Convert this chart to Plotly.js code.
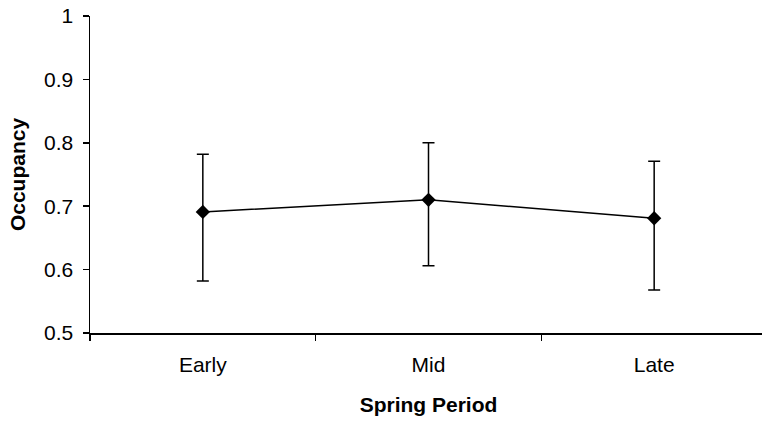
<!DOCTYPE html>
<html>
<head>
<meta charset="utf-8">
<script src="https://cdn.plot.ly/plotly-3.0.1.min.js"></script>
<style>
html,body{margin:0;padding:0;overflow:hidden;background:#fff;}
#chart{width:767px;height:423px;}
</style>
</head>
<body>
<div id="chart"></div>
<script>
var periods = ["Early", "Mid", "Late"];
var occupancy = [0.691, 0.710, 0.681];
var upperBound = [0.782, 0.800, 0.771];
var lowerBound = [0.582, 0.606, 0.568];

var errPlus = occupancy.map(function(v, i){ return upperBound[i] - v; });
var errMinus = occupancy.map(function(v, i){ return v - lowerBound[i]; });

var trace = {
  x: periods,
  y: occupancy,
  type: "scatter",
  mode: "lines+markers",
  line: {color: "#000", width: 1.5},
  marker: {symbol: "diamond", size: 11, color: "#000"},
  error_y: {
    type: "data",
    symmetric: false,
    array: errPlus,
    arrayminus: errMinus,
    color: "#000",
    thickness: 1.5,
    width: 6
  },
  showlegend: false,
  cliponaxis: false
};

var fontFamily = "Liberation Sans, Arial, sans-serif";

var layout = {
  width: 767,
  height: 423,
  margin: {l: 90, r: 0, t: 16, b: 90},
  paper_bgcolor: "#fff",
  plot_bgcolor: "#fff",
  font: {family: fontFamily, color: "#000", size: 21},
  xaxis: {
    type: "category",
    range: [-0.5, 2.5],
    showline: true,
    linecolor: "#000",
    linewidth: 1.5,
    ticks: "outside",
    tickson: "boundaries",
    ticklen: 6,
    tickwidth: 1.5,
    tickcolor: "#000",
    showgrid: false,
    zeroline: false,
    ticklabelstandoff: 12,
    tickfont: {family: fontFamily, size: 21, color: "#000"},
    title: {text: "<b>Spring Period</b>", font: {family: fontFamily, size: 21, color: "#000"}, standoff: 22},
    automargin: false,
    fixedrange: true
  },
  yaxis: {
    range: [0.5, 1],
    tickvals: [0.5, 0.6, 0.7, 0.8, 0.9, 1],
    ticktext: ["0.5", "0.6", "0.7", "0.8", "0.9", "1"],
    showline: true,
    linecolor: "#000",
    linewidth: 1.5,
    ticks: "outside",
    ticklen: 6,
    tickwidth: 1.5,
    tickcolor: "#000",
    showgrid: false,
    zeroline: false,
    ticklabelstandoff: 5,
    tickfont: {family: fontFamily, size: 21, color: "#000"},
    title: {text: "<b>Occupancy</b>", font: {family: fontFamily, size: 21, color: "#000"}, standoff: 12},
    automargin: false,
    fixedrange: true
  }
};

Plotly.newPlot("chart", [trace], layout, {displayModeBar: false, staticPlot: true});
</script>
</body>
</html>
